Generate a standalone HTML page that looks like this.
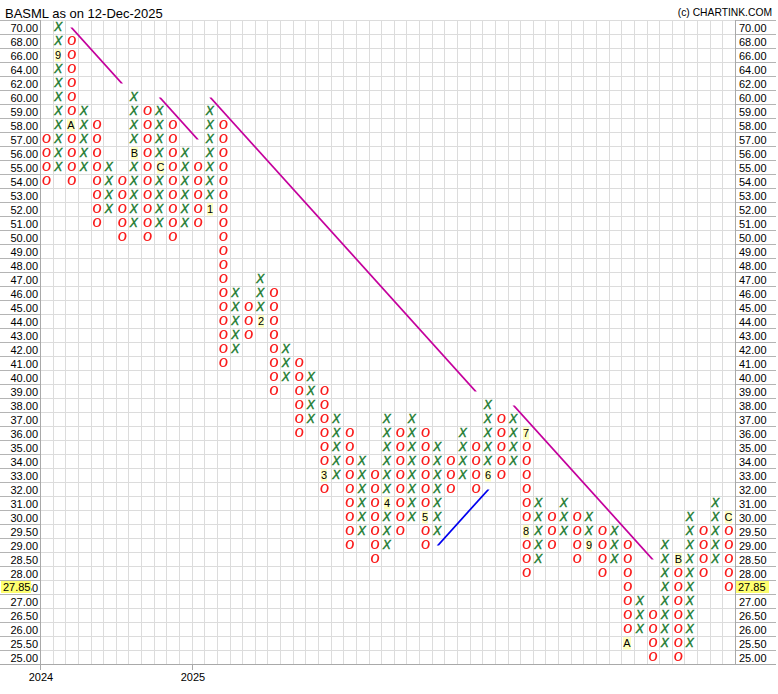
<!DOCTYPE html>
<html><head><meta charset="utf-8"><style>
html,body{margin:0;padding:0;background:#fff;}
body{width:778px;height:694px;overflow:hidden;position:relative;font-family:'Liberation Sans', sans-serif;}
svg{position:absolute;left:0;top:0;}
svg text{font-family:'Liberation Sans', sans-serif;}
.x{font-style:italic;font-size:12px;fill:#1a7a2e;stroke:#1a7a2e;stroke-width:0.4px;}
.op{fill:#fa1c1c;fill-rule:evenodd;shape-rendering:auto;}
.o{font-style:italic;font-size:12px;fill:#fa1c1c;stroke:#fa1c1c;stroke-width:0.35px;}
.m{font-size:11px;fill:#000;}
.lb{font-size:11px;fill:#000;}
</style></head><body>
<svg width="778" height="694" viewBox="0 0 778 694" shape-rendering="crispEdges">

<text x="5" y="17.5" style="font-size:13px" fill="#000" shape-rendering="auto">BASML as on 12-Dec-2025</text>
<text x="772" y="15.5" text-anchor="end" style="font-size:10.3px" fill="#000">(c) CHARTINK.COM</text>
<path d="M53.5 20V664M65.5 20V664M78.5 20V664M91.5 20V664M103.5 20V664M116.5 20V664M128.5 20V664M141.5 20V664M154.5 20V664M166.5 20V664M179.5 20V664M192.5 20V664M204.5 20V664M217.5 20V664M230.5 20V664M242.5 20V664M255.5 20V664M267.5 20V664M280.5 20V664M293.5 20V664M305.5 20V664M318.5 20V664M331.5 20V664M343.5 20V664M356.5 20V664M369.5 20V664M381.5 20V664M394.5 20V664M406.5 20V664M419.5 20V664M432.5 20V664M444.5 20V664M457.5 20V664M470.5 20V664M482.5 20V664M495.5 20V664M508.5 20V664M520.5 20V664M533.5 20V664M545.5 20V664M558.5 20V664M571.5 20V664M583.5 20V664M596.5 20V664M609.5 20V664M621.5 20V664M634.5 20V664M647.5 20V664M659.5 20V664M672.5 20V664M684.5 20V664M697.5 20V664M710.5 20V664M722.5 20V664M40 20.5H735M40 34.5H735M40 48.5H735M40 62.5H735M40 76.5H735M40 90.5H735M40 104.5H735M40 118.5H735M40 132.5H735M40 146.5H735M40 160.5H735M40 174.5H735M40 188.5H735M40 202.5H735M40 216.5H735M40 230.5H735M40 244.5H735M40 258.5H735M40 272.5H735M40 286.5H735M40 300.5H735M40 314.5H735M40 328.5H735M40 342.5H735M40 356.5H735M40 370.5H735M40 384.5H735M40 398.5H735M40 412.5H735M40 426.5H735M40 440.5H735M40 454.5H735M40 468.5H735M40 482.5H735M40 496.5H735M40 510.5H735M40 524.5H735M40 538.5H735M40 552.5H735M40 566.5H735M40 580.5H735M40 594.5H735M40 608.5H735M40 622.5H735M40 636.5H735M40 650.5H735" stroke="#dcdcdc" stroke-width="1" fill="none"/>
<path d="M0 20.5H40M735 20.5H776M0 34.5H40M735 34.5H776M0 48.5H40M735 48.5H776M0 62.5H40M735 62.5H776M0 76.5H40M735 76.5H776M0 90.5H40M735 90.5H776M0 104.5H40M735 104.5H776M0 118.5H40M735 118.5H776M0 132.5H40M735 132.5H776M0 146.5H40M735 146.5H776M0 160.5H40M735 160.5H776M0 174.5H40M735 174.5H776M0 188.5H40M735 188.5H776M0 202.5H40M735 202.5H776M0 216.5H40M735 216.5H776M0 230.5H40M735 230.5H776M0 244.5H40M735 244.5H776M0 258.5H40M735 258.5H776M0 272.5H40M735 272.5H776M0 286.5H40M735 286.5H776M0 300.5H40M735 300.5H776M0 314.5H40M735 314.5H776M0 328.5H40M735 328.5H776M0 342.5H40M735 342.5H776M0 356.5H40M735 356.5H776M0 370.5H40M735 370.5H776M0 384.5H40M735 384.5H776M0 398.5H40M735 398.5H776M0 412.5H40M735 412.5H776M0 426.5H40M735 426.5H776M0 440.5H40M735 440.5H776M0 454.5H40M735 454.5H776M0 468.5H40M735 468.5H776M0 482.5H40M735 482.5H776M0 496.5H40M735 496.5H776M0 510.5H40M735 510.5H776M0 524.5H40M735 524.5H776M0 538.5H40M735 538.5H776M0 552.5H40M735 552.5H776M0 566.5H40M735 566.5H776M0 580.5H40M735 580.5H776M0 594.5H40M735 594.5H776M0 608.5H40M735 608.5H776M0 622.5H40M735 622.5H776M0 636.5H40M735 636.5H776M0 650.5H40M735 650.5H776" stroke="#b4b4b4" stroke-width="1" fill="none"/>
<path d="M40.5 20V664M735.5 20V664M0 664.5H776M40.5 664V670M192.5 664V670" stroke="#a9a9a9" stroke-width="1" fill="none"/>
<text class="lb" x="38" y="31.5" text-anchor="end">70.00</text>
<text class="lb" x="739" y="31.5">70.00</text>
<text class="lb" x="38" y="45.5" text-anchor="end">68.00</text>
<text class="lb" x="739" y="45.5">68.00</text>
<text class="lb" x="38" y="59.5" text-anchor="end">66.00</text>
<text class="lb" x="739" y="59.5">66.00</text>
<text class="lb" x="38" y="73.5" text-anchor="end">64.00</text>
<text class="lb" x="739" y="73.5">64.00</text>
<text class="lb" x="38" y="87.5" text-anchor="end">62.00</text>
<text class="lb" x="739" y="87.5">62.00</text>
<text class="lb" x="38" y="101.5" text-anchor="end">60.00</text>
<text class="lb" x="739" y="101.5">60.00</text>
<text class="lb" x="38" y="115.5" text-anchor="end">59.00</text>
<text class="lb" x="739" y="115.5">59.00</text>
<text class="lb" x="38" y="129.5" text-anchor="end">58.00</text>
<text class="lb" x="739" y="129.5">58.00</text>
<text class="lb" x="38" y="143.5" text-anchor="end">57.00</text>
<text class="lb" x="739" y="143.5">57.00</text>
<text class="lb" x="38" y="157.5" text-anchor="end">56.00</text>
<text class="lb" x="739" y="157.5">56.00</text>
<text class="lb" x="38" y="171.5" text-anchor="end">55.00</text>
<text class="lb" x="739" y="171.5">55.00</text>
<text class="lb" x="38" y="185.5" text-anchor="end">54.00</text>
<text class="lb" x="739" y="185.5">54.00</text>
<text class="lb" x="38" y="199.5" text-anchor="end">53.00</text>
<text class="lb" x="739" y="199.5">53.00</text>
<text class="lb" x="38" y="213.5" text-anchor="end">52.00</text>
<text class="lb" x="739" y="213.5">52.00</text>
<text class="lb" x="38" y="227.5" text-anchor="end">51.00</text>
<text class="lb" x="739" y="227.5">51.00</text>
<text class="lb" x="38" y="241.5" text-anchor="end">50.00</text>
<text class="lb" x="739" y="241.5">50.00</text>
<text class="lb" x="38" y="255.5" text-anchor="end">49.00</text>
<text class="lb" x="739" y="255.5">49.00</text>
<text class="lb" x="38" y="269.5" text-anchor="end">48.00</text>
<text class="lb" x="739" y="269.5">48.00</text>
<text class="lb" x="38" y="283.5" text-anchor="end">47.00</text>
<text class="lb" x="739" y="283.5">47.00</text>
<text class="lb" x="38" y="297.5" text-anchor="end">46.00</text>
<text class="lb" x="739" y="297.5">46.00</text>
<text class="lb" x="38" y="311.5" text-anchor="end">45.00</text>
<text class="lb" x="739" y="311.5">45.00</text>
<text class="lb" x="38" y="325.5" text-anchor="end">44.00</text>
<text class="lb" x="739" y="325.5">44.00</text>
<text class="lb" x="38" y="339.5" text-anchor="end">43.00</text>
<text class="lb" x="739" y="339.5">43.00</text>
<text class="lb" x="38" y="353.5" text-anchor="end">42.00</text>
<text class="lb" x="739" y="353.5">42.00</text>
<text class="lb" x="38" y="367.5" text-anchor="end">41.00</text>
<text class="lb" x="739" y="367.5">41.00</text>
<text class="lb" x="38" y="381.5" text-anchor="end">40.00</text>
<text class="lb" x="739" y="381.5">40.00</text>
<text class="lb" x="38" y="395.5" text-anchor="end">39.00</text>
<text class="lb" x="739" y="395.5">39.00</text>
<text class="lb" x="38" y="409.5" text-anchor="end">38.00</text>
<text class="lb" x="739" y="409.5">38.00</text>
<text class="lb" x="38" y="423.5" text-anchor="end">37.00</text>
<text class="lb" x="739" y="423.5">37.00</text>
<text class="lb" x="38" y="437.5" text-anchor="end">36.00</text>
<text class="lb" x="739" y="437.5">36.00</text>
<text class="lb" x="38" y="451.5" text-anchor="end">35.00</text>
<text class="lb" x="739" y="451.5">35.00</text>
<text class="lb" x="38" y="465.5" text-anchor="end">34.00</text>
<text class="lb" x="739" y="465.5">34.00</text>
<text class="lb" x="38" y="479.5" text-anchor="end">33.00</text>
<text class="lb" x="739" y="479.5">33.00</text>
<text class="lb" x="38" y="493.5" text-anchor="end">32.00</text>
<text class="lb" x="739" y="493.5">32.00</text>
<text class="lb" x="38" y="507.5" text-anchor="end">31.00</text>
<text class="lb" x="739" y="507.5">31.00</text>
<text class="lb" x="38" y="521.5" text-anchor="end">30.00</text>
<text class="lb" x="739" y="521.5">30.00</text>
<text class="lb" x="38" y="535.5" text-anchor="end">29.50</text>
<text class="lb" x="739" y="535.5">29.50</text>
<text class="lb" x="38" y="549.5" text-anchor="end">29.00</text>
<text class="lb" x="739" y="549.5">29.00</text>
<text class="lb" x="38" y="563.5" text-anchor="end">28.50</text>
<text class="lb" x="739" y="563.5">28.50</text>
<text class="lb" x="38" y="577.5" text-anchor="end">28.00</text>
<text class="lb" x="739" y="577.5">28.00</text>
<text class="lb" x="38" y="591.5" text-anchor="end">27.50</text>
<text class="lb" x="739" y="591.5">27.50</text>
<text class="lb" x="38" y="605.5" text-anchor="end">27.00</text>
<text class="lb" x="739" y="605.5">27.00</text>
<text class="lb" x="38" y="619.5" text-anchor="end">26.50</text>
<text class="lb" x="739" y="619.5">26.50</text>
<text class="lb" x="38" y="633.5" text-anchor="end">26.00</text>
<text class="lb" x="739" y="633.5">26.00</text>
<text class="lb" x="38" y="647.5" text-anchor="end">25.50</text>
<text class="lb" x="739" y="647.5">25.50</text>
<text class="lb" x="38" y="661.5" text-anchor="end">25.00</text>
<text class="lb" x="739" y="661.5">25.00</text>
<rect x="1" y="581" width="30" height="12" fill="#ffff70"/>
<text class="lb" x="2.9" y="590.5">27.85</text>
<rect x="736" y="581" width="33" height="12" fill="#ffff70"/>
<text class="lb" x="738" y="590.5">27.85</text>
<text class="lb" x="41" y="681" text-anchor="middle">2024</text>
<text class="lb" x="193" y="681" text-anchor="middle">2025</text>
<path class="op" transform="translate(46.52,138.5) skewX(-7)" d="M-4.1,0A4.1,4.5 0 1,0 4.1,0A4.1,4.5 0 1,0 -4.1,0ZM-2.35,0A2.35,3.5 0 1,0 2.35,0A2.35,3.5 0 1,0 -2.35,0Z"/>
<path class="op" transform="translate(46.52,152.5) skewX(-7)" d="M-4.1,0A4.1,4.5 0 1,0 4.1,0A4.1,4.5 0 1,0 -4.1,0ZM-2.35,0A2.35,3.5 0 1,0 2.35,0A2.35,3.5 0 1,0 -2.35,0Z"/>
<path class="op" transform="translate(46.52,166.5) skewX(-7)" d="M-4.1,0A4.1,4.5 0 1,0 4.1,0A4.1,4.5 0 1,0 -4.1,0ZM-2.35,0A2.35,3.5 0 1,0 2.35,0A2.35,3.5 0 1,0 -2.35,0Z"/>
<path class="op" transform="translate(46.52,180.5) skewX(-7)" d="M-4.1,0A4.1,4.5 0 1,0 4.1,0A4.1,4.5 0 1,0 -4.1,0ZM-2.35,0A2.35,3.5 0 1,0 2.35,0A2.35,3.5 0 1,0 -2.35,0Z"/>
<text class="x" x="58.30" y="31" text-anchor="middle">X</text>
<text class="x" x="58.30" y="45" text-anchor="middle">X</text>
<rect x="55" y="49.1" width="6" height="12.4" fill="#ffffc0" shape-rendering="auto"/>
<text class="m" x="58.00" y="59" text-anchor="middle">9</text>
<text class="x" x="58.30" y="73" text-anchor="middle">X</text>
<text class="x" x="58.30" y="87" text-anchor="middle">X</text>
<text class="x" x="58.30" y="101" text-anchor="middle">X</text>
<text class="x" x="58.30" y="115" text-anchor="middle">X</text>
<text class="x" x="58.30" y="129" text-anchor="middle">X</text>
<text class="x" x="58.30" y="143" text-anchor="middle">X</text>
<text class="x" x="58.30" y="157" text-anchor="middle">X</text>
<text class="x" x="58.30" y="171" text-anchor="middle">X</text>
<path class="op" transform="translate(71.79,40.5) skewX(-7)" d="M-4.1,0A4.1,4.5 0 1,0 4.1,0A4.1,4.5 0 1,0 -4.1,0ZM-2.35,0A2.35,3.5 0 1,0 2.35,0A2.35,3.5 0 1,0 -2.35,0Z"/>
<path class="op" transform="translate(71.79,54.5) skewX(-7)" d="M-4.1,0A4.1,4.5 0 1,0 4.1,0A4.1,4.5 0 1,0 -4.1,0ZM-2.35,0A2.35,3.5 0 1,0 2.35,0A2.35,3.5 0 1,0 -2.35,0Z"/>
<path class="op" transform="translate(71.79,68.5) skewX(-7)" d="M-4.1,0A4.1,4.5 0 1,0 4.1,0A4.1,4.5 0 1,0 -4.1,0ZM-2.35,0A2.35,3.5 0 1,0 2.35,0A2.35,3.5 0 1,0 -2.35,0Z"/>
<path class="op" transform="translate(71.79,82.5) skewX(-7)" d="M-4.1,0A4.1,4.5 0 1,0 4.1,0A4.1,4.5 0 1,0 -4.1,0ZM-2.35,0A2.35,3.5 0 1,0 2.35,0A2.35,3.5 0 1,0 -2.35,0Z"/>
<path class="op" transform="translate(71.79,96.5) skewX(-7)" d="M-4.1,0A4.1,4.5 0 1,0 4.1,0A4.1,4.5 0 1,0 -4.1,0ZM-2.35,0A2.35,3.5 0 1,0 2.35,0A2.35,3.5 0 1,0 -2.35,0Z"/>
<path class="op" transform="translate(71.79,110.5) skewX(-7)" d="M-4.1,0A4.1,4.5 0 1,0 4.1,0A4.1,4.5 0 1,0 -4.1,0ZM-2.35,0A2.35,3.5 0 1,0 2.35,0A2.35,3.5 0 1,0 -2.35,0Z"/>
<rect x="67" y="119.1" width="8" height="12.4" fill="#ffffc0" shape-rendering="auto"/>
<text class="m" x="71.00" y="129" text-anchor="middle">A</text>
<path class="op" transform="translate(71.79,138.5) skewX(-7)" d="M-4.1,0A4.1,4.5 0 1,0 4.1,0A4.1,4.5 0 1,0 -4.1,0ZM-2.35,0A2.35,3.5 0 1,0 2.35,0A2.35,3.5 0 1,0 -2.35,0Z"/>
<path class="op" transform="translate(71.79,152.5) skewX(-7)" d="M-4.1,0A4.1,4.5 0 1,0 4.1,0A4.1,4.5 0 1,0 -4.1,0ZM-2.35,0A2.35,3.5 0 1,0 2.35,0A2.35,3.5 0 1,0 -2.35,0Z"/>
<path class="op" transform="translate(71.79,166.5) skewX(-7)" d="M-4.1,0A4.1,4.5 0 1,0 4.1,0A4.1,4.5 0 1,0 -4.1,0ZM-2.35,0A2.35,3.5 0 1,0 2.35,0A2.35,3.5 0 1,0 -2.35,0Z"/>
<path class="op" transform="translate(71.79,180.5) skewX(-7)" d="M-4.1,0A4.1,4.5 0 1,0 4.1,0A4.1,4.5 0 1,0 -4.1,0ZM-2.35,0A2.35,3.5 0 1,0 2.35,0A2.35,3.5 0 1,0 -2.35,0Z"/>
<text class="x" x="83.80" y="115" text-anchor="middle">X</text>
<text class="x" x="83.80" y="129" text-anchor="middle">X</text>
<text class="x" x="83.80" y="143" text-anchor="middle">X</text>
<text class="x" x="83.80" y="157" text-anchor="middle">X</text>
<text class="x" x="83.80" y="171" text-anchor="middle">X</text>
<path class="op" transform="translate(97.06,124.5) skewX(-7)" d="M-4.1,0A4.1,4.5 0 1,0 4.1,0A4.1,4.5 0 1,0 -4.1,0ZM-2.35,0A2.35,3.5 0 1,0 2.35,0A2.35,3.5 0 1,0 -2.35,0Z"/>
<path class="op" transform="translate(97.06,138.5) skewX(-7)" d="M-4.1,0A4.1,4.5 0 1,0 4.1,0A4.1,4.5 0 1,0 -4.1,0ZM-2.35,0A2.35,3.5 0 1,0 2.35,0A2.35,3.5 0 1,0 -2.35,0Z"/>
<path class="op" transform="translate(97.06,152.5) skewX(-7)" d="M-4.1,0A4.1,4.5 0 1,0 4.1,0A4.1,4.5 0 1,0 -4.1,0ZM-2.35,0A2.35,3.5 0 1,0 2.35,0A2.35,3.5 0 1,0 -2.35,0Z"/>
<path class="op" transform="translate(97.06,166.5) skewX(-7)" d="M-4.1,0A4.1,4.5 0 1,0 4.1,0A4.1,4.5 0 1,0 -4.1,0ZM-2.35,0A2.35,3.5 0 1,0 2.35,0A2.35,3.5 0 1,0 -2.35,0Z"/>
<path class="op" transform="translate(97.06,180.5) skewX(-7)" d="M-4.1,0A4.1,4.5 0 1,0 4.1,0A4.1,4.5 0 1,0 -4.1,0ZM-2.35,0A2.35,3.5 0 1,0 2.35,0A2.35,3.5 0 1,0 -2.35,0Z"/>
<path class="op" transform="translate(97.06,194.5) skewX(-7)" d="M-4.1,0A4.1,4.5 0 1,0 4.1,0A4.1,4.5 0 1,0 -4.1,0ZM-2.35,0A2.35,3.5 0 1,0 2.35,0A2.35,3.5 0 1,0 -2.35,0Z"/>
<path class="op" transform="translate(97.06,208.5) skewX(-7)" d="M-4.1,0A4.1,4.5 0 1,0 4.1,0A4.1,4.5 0 1,0 -4.1,0ZM-2.35,0A2.35,3.5 0 1,0 2.35,0A2.35,3.5 0 1,0 -2.35,0Z"/>
<path class="op" transform="translate(97.06,222.5) skewX(-7)" d="M-4.1,0A4.1,4.5 0 1,0 4.1,0A4.1,4.5 0 1,0 -4.1,0ZM-2.35,0A2.35,3.5 0 1,0 2.35,0A2.35,3.5 0 1,0 -2.35,0Z"/>
<text class="x" x="108.80" y="171" text-anchor="middle">X</text>
<text class="x" x="108.80" y="185" text-anchor="middle">X</text>
<text class="x" x="108.80" y="199" text-anchor="middle">X</text>
<text class="x" x="108.80" y="213" text-anchor="middle">X</text>
<path class="op" transform="translate(122.34,180.5) skewX(-7)" d="M-4.1,0A4.1,4.5 0 1,0 4.1,0A4.1,4.5 0 1,0 -4.1,0ZM-2.35,0A2.35,3.5 0 1,0 2.35,0A2.35,3.5 0 1,0 -2.35,0Z"/>
<path class="op" transform="translate(122.34,194.5) skewX(-7)" d="M-4.1,0A4.1,4.5 0 1,0 4.1,0A4.1,4.5 0 1,0 -4.1,0ZM-2.35,0A2.35,3.5 0 1,0 2.35,0A2.35,3.5 0 1,0 -2.35,0Z"/>
<path class="op" transform="translate(122.34,208.5) skewX(-7)" d="M-4.1,0A4.1,4.5 0 1,0 4.1,0A4.1,4.5 0 1,0 -4.1,0ZM-2.35,0A2.35,3.5 0 1,0 2.35,0A2.35,3.5 0 1,0 -2.35,0Z"/>
<path class="op" transform="translate(122.34,222.5) skewX(-7)" d="M-4.1,0A4.1,4.5 0 1,0 4.1,0A4.1,4.5 0 1,0 -4.1,0ZM-2.35,0A2.35,3.5 0 1,0 2.35,0A2.35,3.5 0 1,0 -2.35,0Z"/>
<path class="op" transform="translate(122.34,236.5) skewX(-7)" d="M-4.1,0A4.1,4.5 0 1,0 4.1,0A4.1,4.5 0 1,0 -4.1,0ZM-2.35,0A2.35,3.5 0 1,0 2.35,0A2.35,3.5 0 1,0 -2.35,0Z"/>
<text class="x" x="133.80" y="101" text-anchor="middle">X</text>
<text class="x" x="133.80" y="115" text-anchor="middle">X</text>
<text class="x" x="133.80" y="129" text-anchor="middle">X</text>
<text class="x" x="133.80" y="143" text-anchor="middle">X</text>
<rect x="131" y="147.1" width="7" height="12.4" fill="#ffffc0" shape-rendering="auto"/>
<text class="m" x="134.50" y="157" text-anchor="middle">B</text>
<text class="x" x="133.80" y="171" text-anchor="middle">X</text>
<text class="x" x="133.80" y="185" text-anchor="middle">X</text>
<text class="x" x="133.80" y="199" text-anchor="middle">X</text>
<text class="x" x="133.80" y="213" text-anchor="middle">X</text>
<text class="x" x="133.80" y="227" text-anchor="middle">X</text>
<path class="op" transform="translate(147.61,110.5) skewX(-7)" d="M-4.1,0A4.1,4.5 0 1,0 4.1,0A4.1,4.5 0 1,0 -4.1,0ZM-2.35,0A2.35,3.5 0 1,0 2.35,0A2.35,3.5 0 1,0 -2.35,0Z"/>
<path class="op" transform="translate(147.61,124.5) skewX(-7)" d="M-4.1,0A4.1,4.5 0 1,0 4.1,0A4.1,4.5 0 1,0 -4.1,0ZM-2.35,0A2.35,3.5 0 1,0 2.35,0A2.35,3.5 0 1,0 -2.35,0Z"/>
<path class="op" transform="translate(147.61,138.5) skewX(-7)" d="M-4.1,0A4.1,4.5 0 1,0 4.1,0A4.1,4.5 0 1,0 -4.1,0ZM-2.35,0A2.35,3.5 0 1,0 2.35,0A2.35,3.5 0 1,0 -2.35,0Z"/>
<path class="op" transform="translate(147.61,152.5) skewX(-7)" d="M-4.1,0A4.1,4.5 0 1,0 4.1,0A4.1,4.5 0 1,0 -4.1,0ZM-2.35,0A2.35,3.5 0 1,0 2.35,0A2.35,3.5 0 1,0 -2.35,0Z"/>
<path class="op" transform="translate(147.61,166.5) skewX(-7)" d="M-4.1,0A4.1,4.5 0 1,0 4.1,0A4.1,4.5 0 1,0 -4.1,0ZM-2.35,0A2.35,3.5 0 1,0 2.35,0A2.35,3.5 0 1,0 -2.35,0Z"/>
<path class="op" transform="translate(147.61,180.5) skewX(-7)" d="M-4.1,0A4.1,4.5 0 1,0 4.1,0A4.1,4.5 0 1,0 -4.1,0ZM-2.35,0A2.35,3.5 0 1,0 2.35,0A2.35,3.5 0 1,0 -2.35,0Z"/>
<path class="op" transform="translate(147.61,194.5) skewX(-7)" d="M-4.1,0A4.1,4.5 0 1,0 4.1,0A4.1,4.5 0 1,0 -4.1,0ZM-2.35,0A2.35,3.5 0 1,0 2.35,0A2.35,3.5 0 1,0 -2.35,0Z"/>
<path class="op" transform="translate(147.61,208.5) skewX(-7)" d="M-4.1,0A4.1,4.5 0 1,0 4.1,0A4.1,4.5 0 1,0 -4.1,0ZM-2.35,0A2.35,3.5 0 1,0 2.35,0A2.35,3.5 0 1,0 -2.35,0Z"/>
<path class="op" transform="translate(147.61,222.5) skewX(-7)" d="M-4.1,0A4.1,4.5 0 1,0 4.1,0A4.1,4.5 0 1,0 -4.1,0ZM-2.35,0A2.35,3.5 0 1,0 2.35,0A2.35,3.5 0 1,0 -2.35,0Z"/>
<path class="op" transform="translate(147.61,236.5) skewX(-7)" d="M-4.1,0A4.1,4.5 0 1,0 4.1,0A4.1,4.5 0 1,0 -4.1,0ZM-2.35,0A2.35,3.5 0 1,0 2.35,0A2.35,3.5 0 1,0 -2.35,0Z"/>
<text class="x" x="159.30" y="115" text-anchor="middle">X</text>
<text class="x" x="159.30" y="129" text-anchor="middle">X</text>
<text class="x" x="159.30" y="143" text-anchor="middle">X</text>
<text class="x" x="159.30" y="157" text-anchor="middle">X</text>
<rect x="157" y="161.1" width="7" height="12.4" fill="#ffffc0" shape-rendering="auto"/>
<text class="m" x="160.50" y="171" text-anchor="middle">C</text>
<text class="x" x="159.30" y="185" text-anchor="middle">X</text>
<text class="x" x="159.30" y="199" text-anchor="middle">X</text>
<text class="x" x="159.30" y="213" text-anchor="middle">X</text>
<text class="x" x="159.30" y="227" text-anchor="middle">X</text>
<path class="op" transform="translate(172.88,124.5) skewX(-7)" d="M-4.1,0A4.1,4.5 0 1,0 4.1,0A4.1,4.5 0 1,0 -4.1,0ZM-2.35,0A2.35,3.5 0 1,0 2.35,0A2.35,3.5 0 1,0 -2.35,0Z"/>
<path class="op" transform="translate(172.88,138.5) skewX(-7)" d="M-4.1,0A4.1,4.5 0 1,0 4.1,0A4.1,4.5 0 1,0 -4.1,0ZM-2.35,0A2.35,3.5 0 1,0 2.35,0A2.35,3.5 0 1,0 -2.35,0Z"/>
<path class="op" transform="translate(172.88,152.5) skewX(-7)" d="M-4.1,0A4.1,4.5 0 1,0 4.1,0A4.1,4.5 0 1,0 -4.1,0ZM-2.35,0A2.35,3.5 0 1,0 2.35,0A2.35,3.5 0 1,0 -2.35,0Z"/>
<path class="op" transform="translate(172.88,166.5) skewX(-7)" d="M-4.1,0A4.1,4.5 0 1,0 4.1,0A4.1,4.5 0 1,0 -4.1,0ZM-2.35,0A2.35,3.5 0 1,0 2.35,0A2.35,3.5 0 1,0 -2.35,0Z"/>
<path class="op" transform="translate(172.88,180.5) skewX(-7)" d="M-4.1,0A4.1,4.5 0 1,0 4.1,0A4.1,4.5 0 1,0 -4.1,0ZM-2.35,0A2.35,3.5 0 1,0 2.35,0A2.35,3.5 0 1,0 -2.35,0Z"/>
<path class="op" transform="translate(172.88,194.5) skewX(-7)" d="M-4.1,0A4.1,4.5 0 1,0 4.1,0A4.1,4.5 0 1,0 -4.1,0ZM-2.35,0A2.35,3.5 0 1,0 2.35,0A2.35,3.5 0 1,0 -2.35,0Z"/>
<path class="op" transform="translate(172.88,208.5) skewX(-7)" d="M-4.1,0A4.1,4.5 0 1,0 4.1,0A4.1,4.5 0 1,0 -4.1,0ZM-2.35,0A2.35,3.5 0 1,0 2.35,0A2.35,3.5 0 1,0 -2.35,0Z"/>
<path class="op" transform="translate(172.88,222.5) skewX(-7)" d="M-4.1,0A4.1,4.5 0 1,0 4.1,0A4.1,4.5 0 1,0 -4.1,0ZM-2.35,0A2.35,3.5 0 1,0 2.35,0A2.35,3.5 0 1,0 -2.35,0Z"/>
<path class="op" transform="translate(172.88,236.5) skewX(-7)" d="M-4.1,0A4.1,4.5 0 1,0 4.1,0A4.1,4.5 0 1,0 -4.1,0ZM-2.35,0A2.35,3.5 0 1,0 2.35,0A2.35,3.5 0 1,0 -2.35,0Z"/>
<text class="x" x="184.80" y="157" text-anchor="middle">X</text>
<text class="x" x="184.80" y="171" text-anchor="middle">X</text>
<text class="x" x="184.80" y="185" text-anchor="middle">X</text>
<text class="x" x="184.80" y="199" text-anchor="middle">X</text>
<text class="x" x="184.80" y="213" text-anchor="middle">X</text>
<text class="x" x="184.80" y="227" text-anchor="middle">X</text>
<path class="op" transform="translate(198.15,166.5) skewX(-7)" d="M-4.1,0A4.1,4.5 0 1,0 4.1,0A4.1,4.5 0 1,0 -4.1,0ZM-2.35,0A2.35,3.5 0 1,0 2.35,0A2.35,3.5 0 1,0 -2.35,0Z"/>
<path class="op" transform="translate(198.15,180.5) skewX(-7)" d="M-4.1,0A4.1,4.5 0 1,0 4.1,0A4.1,4.5 0 1,0 -4.1,0ZM-2.35,0A2.35,3.5 0 1,0 2.35,0A2.35,3.5 0 1,0 -2.35,0Z"/>
<path class="op" transform="translate(198.15,194.5) skewX(-7)" d="M-4.1,0A4.1,4.5 0 1,0 4.1,0A4.1,4.5 0 1,0 -4.1,0ZM-2.35,0A2.35,3.5 0 1,0 2.35,0A2.35,3.5 0 1,0 -2.35,0Z"/>
<path class="op" transform="translate(198.15,208.5) skewX(-7)" d="M-4.1,0A4.1,4.5 0 1,0 4.1,0A4.1,4.5 0 1,0 -4.1,0ZM-2.35,0A2.35,3.5 0 1,0 2.35,0A2.35,3.5 0 1,0 -2.35,0Z"/>
<path class="op" transform="translate(198.15,222.5) skewX(-7)" d="M-4.1,0A4.1,4.5 0 1,0 4.1,0A4.1,4.5 0 1,0 -4.1,0ZM-2.35,0A2.35,3.5 0 1,0 2.35,0A2.35,3.5 0 1,0 -2.35,0Z"/>
<text class="x" x="209.80" y="115" text-anchor="middle">X</text>
<text class="x" x="209.80" y="129" text-anchor="middle">X</text>
<text class="x" x="209.80" y="143" text-anchor="middle">X</text>
<text class="x" x="209.80" y="157" text-anchor="middle">X</text>
<text class="x" x="209.80" y="171" text-anchor="middle">X</text>
<text class="x" x="209.80" y="185" text-anchor="middle">X</text>
<text class="x" x="209.80" y="199" text-anchor="middle">X</text>
<rect x="207" y="203.1" width="6" height="12.4" fill="#ffffc0" shape-rendering="auto"/>
<text class="m" x="210.00" y="213" text-anchor="middle">1</text>
<path class="op" transform="translate(223.43,124.5) skewX(-7)" d="M-4.1,0A4.1,4.5 0 1,0 4.1,0A4.1,4.5 0 1,0 -4.1,0ZM-2.35,0A2.35,3.5 0 1,0 2.35,0A2.35,3.5 0 1,0 -2.35,0Z"/>
<path class="op" transform="translate(223.43,138.5) skewX(-7)" d="M-4.1,0A4.1,4.5 0 1,0 4.1,0A4.1,4.5 0 1,0 -4.1,0ZM-2.35,0A2.35,3.5 0 1,0 2.35,0A2.35,3.5 0 1,0 -2.35,0Z"/>
<path class="op" transform="translate(223.43,152.5) skewX(-7)" d="M-4.1,0A4.1,4.5 0 1,0 4.1,0A4.1,4.5 0 1,0 -4.1,0ZM-2.35,0A2.35,3.5 0 1,0 2.35,0A2.35,3.5 0 1,0 -2.35,0Z"/>
<path class="op" transform="translate(223.43,166.5) skewX(-7)" d="M-4.1,0A4.1,4.5 0 1,0 4.1,0A4.1,4.5 0 1,0 -4.1,0ZM-2.35,0A2.35,3.5 0 1,0 2.35,0A2.35,3.5 0 1,0 -2.35,0Z"/>
<path class="op" transform="translate(223.43,180.5) skewX(-7)" d="M-4.1,0A4.1,4.5 0 1,0 4.1,0A4.1,4.5 0 1,0 -4.1,0ZM-2.35,0A2.35,3.5 0 1,0 2.35,0A2.35,3.5 0 1,0 -2.35,0Z"/>
<path class="op" transform="translate(223.43,194.5) skewX(-7)" d="M-4.1,0A4.1,4.5 0 1,0 4.1,0A4.1,4.5 0 1,0 -4.1,0ZM-2.35,0A2.35,3.5 0 1,0 2.35,0A2.35,3.5 0 1,0 -2.35,0Z"/>
<path class="op" transform="translate(223.43,208.5) skewX(-7)" d="M-4.1,0A4.1,4.5 0 1,0 4.1,0A4.1,4.5 0 1,0 -4.1,0ZM-2.35,0A2.35,3.5 0 1,0 2.35,0A2.35,3.5 0 1,0 -2.35,0Z"/>
<path class="op" transform="translate(223.43,222.5) skewX(-7)" d="M-4.1,0A4.1,4.5 0 1,0 4.1,0A4.1,4.5 0 1,0 -4.1,0ZM-2.35,0A2.35,3.5 0 1,0 2.35,0A2.35,3.5 0 1,0 -2.35,0Z"/>
<path class="op" transform="translate(223.43,236.5) skewX(-7)" d="M-4.1,0A4.1,4.5 0 1,0 4.1,0A4.1,4.5 0 1,0 -4.1,0ZM-2.35,0A2.35,3.5 0 1,0 2.35,0A2.35,3.5 0 1,0 -2.35,0Z"/>
<path class="op" transform="translate(223.43,250.5) skewX(-7)" d="M-4.1,0A4.1,4.5 0 1,0 4.1,0A4.1,4.5 0 1,0 -4.1,0ZM-2.35,0A2.35,3.5 0 1,0 2.35,0A2.35,3.5 0 1,0 -2.35,0Z"/>
<path class="op" transform="translate(223.43,264.5) skewX(-7)" d="M-4.1,0A4.1,4.5 0 1,0 4.1,0A4.1,4.5 0 1,0 -4.1,0ZM-2.35,0A2.35,3.5 0 1,0 2.35,0A2.35,3.5 0 1,0 -2.35,0Z"/>
<path class="op" transform="translate(223.43,278.5) skewX(-7)" d="M-4.1,0A4.1,4.5 0 1,0 4.1,0A4.1,4.5 0 1,0 -4.1,0ZM-2.35,0A2.35,3.5 0 1,0 2.35,0A2.35,3.5 0 1,0 -2.35,0Z"/>
<path class="op" transform="translate(223.43,292.5) skewX(-7)" d="M-4.1,0A4.1,4.5 0 1,0 4.1,0A4.1,4.5 0 1,0 -4.1,0ZM-2.35,0A2.35,3.5 0 1,0 2.35,0A2.35,3.5 0 1,0 -2.35,0Z"/>
<path class="op" transform="translate(223.43,306.5) skewX(-7)" d="M-4.1,0A4.1,4.5 0 1,0 4.1,0A4.1,4.5 0 1,0 -4.1,0ZM-2.35,0A2.35,3.5 0 1,0 2.35,0A2.35,3.5 0 1,0 -2.35,0Z"/>
<path class="op" transform="translate(223.43,320.5) skewX(-7)" d="M-4.1,0A4.1,4.5 0 1,0 4.1,0A4.1,4.5 0 1,0 -4.1,0ZM-2.35,0A2.35,3.5 0 1,0 2.35,0A2.35,3.5 0 1,0 -2.35,0Z"/>
<path class="op" transform="translate(223.43,334.5) skewX(-7)" d="M-4.1,0A4.1,4.5 0 1,0 4.1,0A4.1,4.5 0 1,0 -4.1,0ZM-2.35,0A2.35,3.5 0 1,0 2.35,0A2.35,3.5 0 1,0 -2.35,0Z"/>
<path class="op" transform="translate(223.43,348.5) skewX(-7)" d="M-4.1,0A4.1,4.5 0 1,0 4.1,0A4.1,4.5 0 1,0 -4.1,0ZM-2.35,0A2.35,3.5 0 1,0 2.35,0A2.35,3.5 0 1,0 -2.35,0Z"/>
<path class="op" transform="translate(223.43,362.5) skewX(-7)" d="M-4.1,0A4.1,4.5 0 1,0 4.1,0A4.1,4.5 0 1,0 -4.1,0ZM-2.35,0A2.35,3.5 0 1,0 2.35,0A2.35,3.5 0 1,0 -2.35,0Z"/>
<text class="x" x="235.30" y="297" text-anchor="middle">X</text>
<text class="x" x="235.30" y="311" text-anchor="middle">X</text>
<text class="x" x="235.30" y="325" text-anchor="middle">X</text>
<text class="x" x="235.30" y="339" text-anchor="middle">X</text>
<text class="x" x="235.30" y="353" text-anchor="middle">X</text>
<path class="op" transform="translate(248.70,306.5) skewX(-7)" d="M-4.1,0A4.1,4.5 0 1,0 4.1,0A4.1,4.5 0 1,0 -4.1,0ZM-2.35,0A2.35,3.5 0 1,0 2.35,0A2.35,3.5 0 1,0 -2.35,0Z"/>
<path class="op" transform="translate(248.70,320.5) skewX(-7)" d="M-4.1,0A4.1,4.5 0 1,0 4.1,0A4.1,4.5 0 1,0 -4.1,0ZM-2.35,0A2.35,3.5 0 1,0 2.35,0A2.35,3.5 0 1,0 -2.35,0Z"/>
<path class="op" transform="translate(248.70,334.5) skewX(-7)" d="M-4.1,0A4.1,4.5 0 1,0 4.1,0A4.1,4.5 0 1,0 -4.1,0ZM-2.35,0A2.35,3.5 0 1,0 2.35,0A2.35,3.5 0 1,0 -2.35,0Z"/>
<text class="x" x="260.30" y="283" text-anchor="middle">X</text>
<text class="x" x="260.30" y="297" text-anchor="middle">X</text>
<text class="x" x="260.30" y="311" text-anchor="middle">X</text>
<rect x="258" y="315.1" width="6" height="12.4" fill="#ffffc0" shape-rendering="auto"/>
<text class="m" x="261.00" y="325" text-anchor="middle">2</text>
<path class="op" transform="translate(273.97,292.5) skewX(-7)" d="M-4.1,0A4.1,4.5 0 1,0 4.1,0A4.1,4.5 0 1,0 -4.1,0ZM-2.35,0A2.35,3.5 0 1,0 2.35,0A2.35,3.5 0 1,0 -2.35,0Z"/>
<path class="op" transform="translate(273.97,306.5) skewX(-7)" d="M-4.1,0A4.1,4.5 0 1,0 4.1,0A4.1,4.5 0 1,0 -4.1,0ZM-2.35,0A2.35,3.5 0 1,0 2.35,0A2.35,3.5 0 1,0 -2.35,0Z"/>
<path class="op" transform="translate(273.97,320.5) skewX(-7)" d="M-4.1,0A4.1,4.5 0 1,0 4.1,0A4.1,4.5 0 1,0 -4.1,0ZM-2.35,0A2.35,3.5 0 1,0 2.35,0A2.35,3.5 0 1,0 -2.35,0Z"/>
<path class="op" transform="translate(273.97,334.5) skewX(-7)" d="M-4.1,0A4.1,4.5 0 1,0 4.1,0A4.1,4.5 0 1,0 -4.1,0ZM-2.35,0A2.35,3.5 0 1,0 2.35,0A2.35,3.5 0 1,0 -2.35,0Z"/>
<path class="op" transform="translate(273.97,348.5) skewX(-7)" d="M-4.1,0A4.1,4.5 0 1,0 4.1,0A4.1,4.5 0 1,0 -4.1,0ZM-2.35,0A2.35,3.5 0 1,0 2.35,0A2.35,3.5 0 1,0 -2.35,0Z"/>
<path class="op" transform="translate(273.97,362.5) skewX(-7)" d="M-4.1,0A4.1,4.5 0 1,0 4.1,0A4.1,4.5 0 1,0 -4.1,0ZM-2.35,0A2.35,3.5 0 1,0 2.35,0A2.35,3.5 0 1,0 -2.35,0Z"/>
<path class="op" transform="translate(273.97,376.5) skewX(-7)" d="M-4.1,0A4.1,4.5 0 1,0 4.1,0A4.1,4.5 0 1,0 -4.1,0ZM-2.35,0A2.35,3.5 0 1,0 2.35,0A2.35,3.5 0 1,0 -2.35,0Z"/>
<path class="op" transform="translate(273.97,390.5) skewX(-7)" d="M-4.1,0A4.1,4.5 0 1,0 4.1,0A4.1,4.5 0 1,0 -4.1,0ZM-2.35,0A2.35,3.5 0 1,0 2.35,0A2.35,3.5 0 1,0 -2.35,0Z"/>
<text class="x" x="285.80" y="353" text-anchor="middle">X</text>
<text class="x" x="285.80" y="367" text-anchor="middle">X</text>
<text class="x" x="285.80" y="381" text-anchor="middle">X</text>
<path class="op" transform="translate(299.25,362.5) skewX(-7)" d="M-4.1,0A4.1,4.5 0 1,0 4.1,0A4.1,4.5 0 1,0 -4.1,0ZM-2.35,0A2.35,3.5 0 1,0 2.35,0A2.35,3.5 0 1,0 -2.35,0Z"/>
<path class="op" transform="translate(299.25,376.5) skewX(-7)" d="M-4.1,0A4.1,4.5 0 1,0 4.1,0A4.1,4.5 0 1,0 -4.1,0ZM-2.35,0A2.35,3.5 0 1,0 2.35,0A2.35,3.5 0 1,0 -2.35,0Z"/>
<path class="op" transform="translate(299.25,390.5) skewX(-7)" d="M-4.1,0A4.1,4.5 0 1,0 4.1,0A4.1,4.5 0 1,0 -4.1,0ZM-2.35,0A2.35,3.5 0 1,0 2.35,0A2.35,3.5 0 1,0 -2.35,0Z"/>
<path class="op" transform="translate(299.25,404.5) skewX(-7)" d="M-4.1,0A4.1,4.5 0 1,0 4.1,0A4.1,4.5 0 1,0 -4.1,0ZM-2.35,0A2.35,3.5 0 1,0 2.35,0A2.35,3.5 0 1,0 -2.35,0Z"/>
<path class="op" transform="translate(299.25,418.5) skewX(-7)" d="M-4.1,0A4.1,4.5 0 1,0 4.1,0A4.1,4.5 0 1,0 -4.1,0ZM-2.35,0A2.35,3.5 0 1,0 2.35,0A2.35,3.5 0 1,0 -2.35,0Z"/>
<path class="op" transform="translate(299.25,432.5) skewX(-7)" d="M-4.1,0A4.1,4.5 0 1,0 4.1,0A4.1,4.5 0 1,0 -4.1,0ZM-2.35,0A2.35,3.5 0 1,0 2.35,0A2.35,3.5 0 1,0 -2.35,0Z"/>
<text class="x" x="310.80" y="381" text-anchor="middle">X</text>
<text class="x" x="310.80" y="395" text-anchor="middle">X</text>
<text class="x" x="310.80" y="409" text-anchor="middle">X</text>
<text class="x" x="310.80" y="423" text-anchor="middle">X</text>
<path class="op" transform="translate(324.52,390.5) skewX(-7)" d="M-4.1,0A4.1,4.5 0 1,0 4.1,0A4.1,4.5 0 1,0 -4.1,0ZM-2.35,0A2.35,3.5 0 1,0 2.35,0A2.35,3.5 0 1,0 -2.35,0Z"/>
<path class="op" transform="translate(324.52,404.5) skewX(-7)" d="M-4.1,0A4.1,4.5 0 1,0 4.1,0A4.1,4.5 0 1,0 -4.1,0ZM-2.35,0A2.35,3.5 0 1,0 2.35,0A2.35,3.5 0 1,0 -2.35,0Z"/>
<path class="op" transform="translate(324.52,418.5) skewX(-7)" d="M-4.1,0A4.1,4.5 0 1,0 4.1,0A4.1,4.5 0 1,0 -4.1,0ZM-2.35,0A2.35,3.5 0 1,0 2.35,0A2.35,3.5 0 1,0 -2.35,0Z"/>
<path class="op" transform="translate(324.52,432.5) skewX(-7)" d="M-4.1,0A4.1,4.5 0 1,0 4.1,0A4.1,4.5 0 1,0 -4.1,0ZM-2.35,0A2.35,3.5 0 1,0 2.35,0A2.35,3.5 0 1,0 -2.35,0Z"/>
<path class="op" transform="translate(324.52,446.5) skewX(-7)" d="M-4.1,0A4.1,4.5 0 1,0 4.1,0A4.1,4.5 0 1,0 -4.1,0ZM-2.35,0A2.35,3.5 0 1,0 2.35,0A2.35,3.5 0 1,0 -2.35,0Z"/>
<path class="op" transform="translate(324.52,460.5) skewX(-7)" d="M-4.1,0A4.1,4.5 0 1,0 4.1,0A4.1,4.5 0 1,0 -4.1,0ZM-2.35,0A2.35,3.5 0 1,0 2.35,0A2.35,3.5 0 1,0 -2.35,0Z"/>
<rect x="321" y="469.1" width="6" height="12.4" fill="#ffffc0" shape-rendering="auto"/>
<text class="m" x="324.00" y="479" text-anchor="middle">3</text>
<path class="op" transform="translate(324.52,488.5) skewX(-7)" d="M-4.1,0A4.1,4.5 0 1,0 4.1,0A4.1,4.5 0 1,0 -4.1,0ZM-2.35,0A2.35,3.5 0 1,0 2.35,0A2.35,3.5 0 1,0 -2.35,0Z"/>
<text class="x" x="336.30" y="423" text-anchor="middle">X</text>
<text class="x" x="336.30" y="437" text-anchor="middle">X</text>
<text class="x" x="336.30" y="451" text-anchor="middle">X</text>
<text class="x" x="336.30" y="465" text-anchor="middle">X</text>
<text class="x" x="336.30" y="479" text-anchor="middle">X</text>
<path class="op" transform="translate(349.79,432.5) skewX(-7)" d="M-4.1,0A4.1,4.5 0 1,0 4.1,0A4.1,4.5 0 1,0 -4.1,0ZM-2.35,0A2.35,3.5 0 1,0 2.35,0A2.35,3.5 0 1,0 -2.35,0Z"/>
<path class="op" transform="translate(349.79,446.5) skewX(-7)" d="M-4.1,0A4.1,4.5 0 1,0 4.1,0A4.1,4.5 0 1,0 -4.1,0ZM-2.35,0A2.35,3.5 0 1,0 2.35,0A2.35,3.5 0 1,0 -2.35,0Z"/>
<path class="op" transform="translate(349.79,460.5) skewX(-7)" d="M-4.1,0A4.1,4.5 0 1,0 4.1,0A4.1,4.5 0 1,0 -4.1,0ZM-2.35,0A2.35,3.5 0 1,0 2.35,0A2.35,3.5 0 1,0 -2.35,0Z"/>
<path class="op" transform="translate(349.79,474.5) skewX(-7)" d="M-4.1,0A4.1,4.5 0 1,0 4.1,0A4.1,4.5 0 1,0 -4.1,0ZM-2.35,0A2.35,3.5 0 1,0 2.35,0A2.35,3.5 0 1,0 -2.35,0Z"/>
<path class="op" transform="translate(349.79,488.5) skewX(-7)" d="M-4.1,0A4.1,4.5 0 1,0 4.1,0A4.1,4.5 0 1,0 -4.1,0ZM-2.35,0A2.35,3.5 0 1,0 2.35,0A2.35,3.5 0 1,0 -2.35,0Z"/>
<path class="op" transform="translate(349.79,502.5) skewX(-7)" d="M-4.1,0A4.1,4.5 0 1,0 4.1,0A4.1,4.5 0 1,0 -4.1,0ZM-2.35,0A2.35,3.5 0 1,0 2.35,0A2.35,3.5 0 1,0 -2.35,0Z"/>
<path class="op" transform="translate(349.79,516.5) skewX(-7)" d="M-4.1,0A4.1,4.5 0 1,0 4.1,0A4.1,4.5 0 1,0 -4.1,0ZM-2.35,0A2.35,3.5 0 1,0 2.35,0A2.35,3.5 0 1,0 -2.35,0Z"/>
<path class="op" transform="translate(349.79,530.5) skewX(-7)" d="M-4.1,0A4.1,4.5 0 1,0 4.1,0A4.1,4.5 0 1,0 -4.1,0ZM-2.35,0A2.35,3.5 0 1,0 2.35,0A2.35,3.5 0 1,0 -2.35,0Z"/>
<path class="op" transform="translate(349.79,544.5) skewX(-7)" d="M-4.1,0A4.1,4.5 0 1,0 4.1,0A4.1,4.5 0 1,0 -4.1,0ZM-2.35,0A2.35,3.5 0 1,0 2.35,0A2.35,3.5 0 1,0 -2.35,0Z"/>
<text class="x" x="361.80" y="465" text-anchor="middle">X</text>
<text class="x" x="361.80" y="479" text-anchor="middle">X</text>
<text class="x" x="361.80" y="493" text-anchor="middle">X</text>
<text class="x" x="361.80" y="507" text-anchor="middle">X</text>
<text class="x" x="361.80" y="521" text-anchor="middle">X</text>
<text class="x" x="361.80" y="535" text-anchor="middle">X</text>
<path class="op" transform="translate(375.06,474.5) skewX(-7)" d="M-4.1,0A4.1,4.5 0 1,0 4.1,0A4.1,4.5 0 1,0 -4.1,0ZM-2.35,0A2.35,3.5 0 1,0 2.35,0A2.35,3.5 0 1,0 -2.35,0Z"/>
<path class="op" transform="translate(375.06,488.5) skewX(-7)" d="M-4.1,0A4.1,4.5 0 1,0 4.1,0A4.1,4.5 0 1,0 -4.1,0ZM-2.35,0A2.35,3.5 0 1,0 2.35,0A2.35,3.5 0 1,0 -2.35,0Z"/>
<path class="op" transform="translate(375.06,502.5) skewX(-7)" d="M-4.1,0A4.1,4.5 0 1,0 4.1,0A4.1,4.5 0 1,0 -4.1,0ZM-2.35,0A2.35,3.5 0 1,0 2.35,0A2.35,3.5 0 1,0 -2.35,0Z"/>
<path class="op" transform="translate(375.06,516.5) skewX(-7)" d="M-4.1,0A4.1,4.5 0 1,0 4.1,0A4.1,4.5 0 1,0 -4.1,0ZM-2.35,0A2.35,3.5 0 1,0 2.35,0A2.35,3.5 0 1,0 -2.35,0Z"/>
<path class="op" transform="translate(375.06,530.5) skewX(-7)" d="M-4.1,0A4.1,4.5 0 1,0 4.1,0A4.1,4.5 0 1,0 -4.1,0ZM-2.35,0A2.35,3.5 0 1,0 2.35,0A2.35,3.5 0 1,0 -2.35,0Z"/>
<path class="op" transform="translate(375.06,544.5) skewX(-7)" d="M-4.1,0A4.1,4.5 0 1,0 4.1,0A4.1,4.5 0 1,0 -4.1,0ZM-2.35,0A2.35,3.5 0 1,0 2.35,0A2.35,3.5 0 1,0 -2.35,0Z"/>
<path class="op" transform="translate(375.06,558.5) skewX(-7)" d="M-4.1,0A4.1,4.5 0 1,0 4.1,0A4.1,4.5 0 1,0 -4.1,0ZM-2.35,0A2.35,3.5 0 1,0 2.35,0A2.35,3.5 0 1,0 -2.35,0Z"/>
<text class="x" x="386.80" y="423" text-anchor="middle">X</text>
<text class="x" x="386.80" y="437" text-anchor="middle">X</text>
<text class="x" x="386.80" y="451" text-anchor="middle">X</text>
<text class="x" x="386.80" y="465" text-anchor="middle">X</text>
<text class="x" x="386.80" y="479" text-anchor="middle">X</text>
<text class="x" x="386.80" y="493" text-anchor="middle">X</text>
<rect x="384" y="497.1" width="6" height="12.4" fill="#ffffc0" shape-rendering="auto"/>
<text class="m" x="387.00" y="507" text-anchor="middle">4</text>
<text class="x" x="386.80" y="521" text-anchor="middle">X</text>
<text class="x" x="386.80" y="535" text-anchor="middle">X</text>
<text class="x" x="386.80" y="549" text-anchor="middle">X</text>
<path class="op" transform="translate(400.34,432.5) skewX(-7)" d="M-4.1,0A4.1,4.5 0 1,0 4.1,0A4.1,4.5 0 1,0 -4.1,0ZM-2.35,0A2.35,3.5 0 1,0 2.35,0A2.35,3.5 0 1,0 -2.35,0Z"/>
<path class="op" transform="translate(400.34,446.5) skewX(-7)" d="M-4.1,0A4.1,4.5 0 1,0 4.1,0A4.1,4.5 0 1,0 -4.1,0ZM-2.35,0A2.35,3.5 0 1,0 2.35,0A2.35,3.5 0 1,0 -2.35,0Z"/>
<path class="op" transform="translate(400.34,460.5) skewX(-7)" d="M-4.1,0A4.1,4.5 0 1,0 4.1,0A4.1,4.5 0 1,0 -4.1,0ZM-2.35,0A2.35,3.5 0 1,0 2.35,0A2.35,3.5 0 1,0 -2.35,0Z"/>
<path class="op" transform="translate(400.34,474.5) skewX(-7)" d="M-4.1,0A4.1,4.5 0 1,0 4.1,0A4.1,4.5 0 1,0 -4.1,0ZM-2.35,0A2.35,3.5 0 1,0 2.35,0A2.35,3.5 0 1,0 -2.35,0Z"/>
<path class="op" transform="translate(400.34,488.5) skewX(-7)" d="M-4.1,0A4.1,4.5 0 1,0 4.1,0A4.1,4.5 0 1,0 -4.1,0ZM-2.35,0A2.35,3.5 0 1,0 2.35,0A2.35,3.5 0 1,0 -2.35,0Z"/>
<path class="op" transform="translate(400.34,502.5) skewX(-7)" d="M-4.1,0A4.1,4.5 0 1,0 4.1,0A4.1,4.5 0 1,0 -4.1,0ZM-2.35,0A2.35,3.5 0 1,0 2.35,0A2.35,3.5 0 1,0 -2.35,0Z"/>
<path class="op" transform="translate(400.34,516.5) skewX(-7)" d="M-4.1,0A4.1,4.5 0 1,0 4.1,0A4.1,4.5 0 1,0 -4.1,0ZM-2.35,0A2.35,3.5 0 1,0 2.35,0A2.35,3.5 0 1,0 -2.35,0Z"/>
<path class="op" transform="translate(400.34,530.5) skewX(-7)" d="M-4.1,0A4.1,4.5 0 1,0 4.1,0A4.1,4.5 0 1,0 -4.1,0ZM-2.35,0A2.35,3.5 0 1,0 2.35,0A2.35,3.5 0 1,0 -2.35,0Z"/>
<text class="x" x="411.80" y="423" text-anchor="middle">X</text>
<text class="x" x="411.80" y="437" text-anchor="middle">X</text>
<text class="x" x="411.80" y="451" text-anchor="middle">X</text>
<text class="x" x="411.80" y="465" text-anchor="middle">X</text>
<text class="x" x="411.80" y="479" text-anchor="middle">X</text>
<text class="x" x="411.80" y="493" text-anchor="middle">X</text>
<text class="x" x="411.80" y="507" text-anchor="middle">X</text>
<text class="x" x="411.80" y="521" text-anchor="middle">X</text>
<path class="op" transform="translate(425.61,432.5) skewX(-7)" d="M-4.1,0A4.1,4.5 0 1,0 4.1,0A4.1,4.5 0 1,0 -4.1,0ZM-2.35,0A2.35,3.5 0 1,0 2.35,0A2.35,3.5 0 1,0 -2.35,0Z"/>
<path class="op" transform="translate(425.61,446.5) skewX(-7)" d="M-4.1,0A4.1,4.5 0 1,0 4.1,0A4.1,4.5 0 1,0 -4.1,0ZM-2.35,0A2.35,3.5 0 1,0 2.35,0A2.35,3.5 0 1,0 -2.35,0Z"/>
<path class="op" transform="translate(425.61,460.5) skewX(-7)" d="M-4.1,0A4.1,4.5 0 1,0 4.1,0A4.1,4.5 0 1,0 -4.1,0ZM-2.35,0A2.35,3.5 0 1,0 2.35,0A2.35,3.5 0 1,0 -2.35,0Z"/>
<path class="op" transform="translate(425.61,474.5) skewX(-7)" d="M-4.1,0A4.1,4.5 0 1,0 4.1,0A4.1,4.5 0 1,0 -4.1,0ZM-2.35,0A2.35,3.5 0 1,0 2.35,0A2.35,3.5 0 1,0 -2.35,0Z"/>
<path class="op" transform="translate(425.61,488.5) skewX(-7)" d="M-4.1,0A4.1,4.5 0 1,0 4.1,0A4.1,4.5 0 1,0 -4.1,0ZM-2.35,0A2.35,3.5 0 1,0 2.35,0A2.35,3.5 0 1,0 -2.35,0Z"/>
<path class="op" transform="translate(425.61,502.5) skewX(-7)" d="M-4.1,0A4.1,4.5 0 1,0 4.1,0A4.1,4.5 0 1,0 -4.1,0ZM-2.35,0A2.35,3.5 0 1,0 2.35,0A2.35,3.5 0 1,0 -2.35,0Z"/>
<rect x="422" y="511.1" width="6" height="12.4" fill="#ffffc0" shape-rendering="auto"/>
<text class="m" x="425.00" y="521" text-anchor="middle">5</text>
<path class="op" transform="translate(425.61,530.5) skewX(-7)" d="M-4.1,0A4.1,4.5 0 1,0 4.1,0A4.1,4.5 0 1,0 -4.1,0ZM-2.35,0A2.35,3.5 0 1,0 2.35,0A2.35,3.5 0 1,0 -2.35,0Z"/>
<path class="op" transform="translate(425.61,544.5) skewX(-7)" d="M-4.1,0A4.1,4.5 0 1,0 4.1,0A4.1,4.5 0 1,0 -4.1,0ZM-2.35,0A2.35,3.5 0 1,0 2.35,0A2.35,3.5 0 1,0 -2.35,0Z"/>
<text class="x" x="437.30" y="451" text-anchor="middle">X</text>
<text class="x" x="437.30" y="465" text-anchor="middle">X</text>
<text class="x" x="437.30" y="479" text-anchor="middle">X</text>
<text class="x" x="437.30" y="493" text-anchor="middle">X</text>
<text class="x" x="437.30" y="507" text-anchor="middle">X</text>
<text class="x" x="437.30" y="521" text-anchor="middle">X</text>
<text class="x" x="437.30" y="535" text-anchor="middle">X</text>
<path class="op" transform="translate(450.88,460.5) skewX(-7)" d="M-4.1,0A4.1,4.5 0 1,0 4.1,0A4.1,4.5 0 1,0 -4.1,0ZM-2.35,0A2.35,3.5 0 1,0 2.35,0A2.35,3.5 0 1,0 -2.35,0Z"/>
<path class="op" transform="translate(450.88,474.5) skewX(-7)" d="M-4.1,0A4.1,4.5 0 1,0 4.1,0A4.1,4.5 0 1,0 -4.1,0ZM-2.35,0A2.35,3.5 0 1,0 2.35,0A2.35,3.5 0 1,0 -2.35,0Z"/>
<path class="op" transform="translate(450.88,488.5) skewX(-7)" d="M-4.1,0A4.1,4.5 0 1,0 4.1,0A4.1,4.5 0 1,0 -4.1,0ZM-2.35,0A2.35,3.5 0 1,0 2.35,0A2.35,3.5 0 1,0 -2.35,0Z"/>
<text class="x" x="462.80" y="437" text-anchor="middle">X</text>
<text class="x" x="462.80" y="451" text-anchor="middle">X</text>
<text class="x" x="462.80" y="465" text-anchor="middle">X</text>
<text class="x" x="462.80" y="479" text-anchor="middle">X</text>
<path class="op" transform="translate(476.15,446.5) skewX(-7)" d="M-4.1,0A4.1,4.5 0 1,0 4.1,0A4.1,4.5 0 1,0 -4.1,0ZM-2.35,0A2.35,3.5 0 1,0 2.35,0A2.35,3.5 0 1,0 -2.35,0Z"/>
<path class="op" transform="translate(476.15,460.5) skewX(-7)" d="M-4.1,0A4.1,4.5 0 1,0 4.1,0A4.1,4.5 0 1,0 -4.1,0ZM-2.35,0A2.35,3.5 0 1,0 2.35,0A2.35,3.5 0 1,0 -2.35,0Z"/>
<path class="op" transform="translate(476.15,474.5) skewX(-7)" d="M-4.1,0A4.1,4.5 0 1,0 4.1,0A4.1,4.5 0 1,0 -4.1,0ZM-2.35,0A2.35,3.5 0 1,0 2.35,0A2.35,3.5 0 1,0 -2.35,0Z"/>
<path class="op" transform="translate(476.15,488.5) skewX(-7)" d="M-4.1,0A4.1,4.5 0 1,0 4.1,0A4.1,4.5 0 1,0 -4.1,0ZM-2.35,0A2.35,3.5 0 1,0 2.35,0A2.35,3.5 0 1,0 -2.35,0Z"/>
<text class="x" x="487.80" y="409" text-anchor="middle">X</text>
<text class="x" x="487.80" y="423" text-anchor="middle">X</text>
<text class="x" x="487.80" y="437" text-anchor="middle">X</text>
<text class="x" x="487.80" y="451" text-anchor="middle">X</text>
<text class="x" x="487.80" y="465" text-anchor="middle">X</text>
<rect x="485" y="469.1" width="6" height="12.4" fill="#ffffc0" shape-rendering="auto"/>
<text class="m" x="488.00" y="479" text-anchor="middle">6</text>
<path class="op" transform="translate(501.43,418.5) skewX(-7)" d="M-4.1,0A4.1,4.5 0 1,0 4.1,0A4.1,4.5 0 1,0 -4.1,0ZM-2.35,0A2.35,3.5 0 1,0 2.35,0A2.35,3.5 0 1,0 -2.35,0Z"/>
<path class="op" transform="translate(501.43,432.5) skewX(-7)" d="M-4.1,0A4.1,4.5 0 1,0 4.1,0A4.1,4.5 0 1,0 -4.1,0ZM-2.35,0A2.35,3.5 0 1,0 2.35,0A2.35,3.5 0 1,0 -2.35,0Z"/>
<path class="op" transform="translate(501.43,446.5) skewX(-7)" d="M-4.1,0A4.1,4.5 0 1,0 4.1,0A4.1,4.5 0 1,0 -4.1,0ZM-2.35,0A2.35,3.5 0 1,0 2.35,0A2.35,3.5 0 1,0 -2.35,0Z"/>
<path class="op" transform="translate(501.43,460.5) skewX(-7)" d="M-4.1,0A4.1,4.5 0 1,0 4.1,0A4.1,4.5 0 1,0 -4.1,0ZM-2.35,0A2.35,3.5 0 1,0 2.35,0A2.35,3.5 0 1,0 -2.35,0Z"/>
<path class="op" transform="translate(501.43,474.5) skewX(-7)" d="M-4.1,0A4.1,4.5 0 1,0 4.1,0A4.1,4.5 0 1,0 -4.1,0ZM-2.35,0A2.35,3.5 0 1,0 2.35,0A2.35,3.5 0 1,0 -2.35,0Z"/>
<text class="x" x="513.30" y="423" text-anchor="middle">X</text>
<text class="x" x="513.30" y="437" text-anchor="middle">X</text>
<text class="x" x="513.30" y="451" text-anchor="middle">X</text>
<text class="x" x="513.30" y="465" text-anchor="middle">X</text>
<rect x="523" y="427.1" width="6" height="12.4" fill="#ffffc0" shape-rendering="auto"/>
<text class="m" x="526.00" y="437" text-anchor="middle">7</text>
<path class="op" transform="translate(526.70,446.5) skewX(-7)" d="M-4.1,0A4.1,4.5 0 1,0 4.1,0A4.1,4.5 0 1,0 -4.1,0ZM-2.35,0A2.35,3.5 0 1,0 2.35,0A2.35,3.5 0 1,0 -2.35,0Z"/>
<path class="op" transform="translate(526.70,460.5) skewX(-7)" d="M-4.1,0A4.1,4.5 0 1,0 4.1,0A4.1,4.5 0 1,0 -4.1,0ZM-2.35,0A2.35,3.5 0 1,0 2.35,0A2.35,3.5 0 1,0 -2.35,0Z"/>
<path class="op" transform="translate(526.70,474.5) skewX(-7)" d="M-4.1,0A4.1,4.5 0 1,0 4.1,0A4.1,4.5 0 1,0 -4.1,0ZM-2.35,0A2.35,3.5 0 1,0 2.35,0A2.35,3.5 0 1,0 -2.35,0Z"/>
<path class="op" transform="translate(526.70,488.5) skewX(-7)" d="M-4.1,0A4.1,4.5 0 1,0 4.1,0A4.1,4.5 0 1,0 -4.1,0ZM-2.35,0A2.35,3.5 0 1,0 2.35,0A2.35,3.5 0 1,0 -2.35,0Z"/>
<path class="op" transform="translate(526.70,502.5) skewX(-7)" d="M-4.1,0A4.1,4.5 0 1,0 4.1,0A4.1,4.5 0 1,0 -4.1,0ZM-2.35,0A2.35,3.5 0 1,0 2.35,0A2.35,3.5 0 1,0 -2.35,0Z"/>
<path class="op" transform="translate(526.70,516.5) skewX(-7)" d="M-4.1,0A4.1,4.5 0 1,0 4.1,0A4.1,4.5 0 1,0 -4.1,0ZM-2.35,0A2.35,3.5 0 1,0 2.35,0A2.35,3.5 0 1,0 -2.35,0Z"/>
<rect x="523" y="525.1" width="6" height="12.4" fill="#ffffc0" shape-rendering="auto"/>
<text class="m" x="526.00" y="535" text-anchor="middle">8</text>
<path class="op" transform="translate(526.70,544.5) skewX(-7)" d="M-4.1,0A4.1,4.5 0 1,0 4.1,0A4.1,4.5 0 1,0 -4.1,0ZM-2.35,0A2.35,3.5 0 1,0 2.35,0A2.35,3.5 0 1,0 -2.35,0Z"/>
<path class="op" transform="translate(526.70,558.5) skewX(-7)" d="M-4.1,0A4.1,4.5 0 1,0 4.1,0A4.1,4.5 0 1,0 -4.1,0ZM-2.35,0A2.35,3.5 0 1,0 2.35,0A2.35,3.5 0 1,0 -2.35,0Z"/>
<path class="op" transform="translate(526.70,572.5) skewX(-7)" d="M-4.1,0A4.1,4.5 0 1,0 4.1,0A4.1,4.5 0 1,0 -4.1,0ZM-2.35,0A2.35,3.5 0 1,0 2.35,0A2.35,3.5 0 1,0 -2.35,0Z"/>
<text class="x" x="538.30" y="507" text-anchor="middle">X</text>
<text class="x" x="538.30" y="521" text-anchor="middle">X</text>
<text class="x" x="538.30" y="535" text-anchor="middle">X</text>
<text class="x" x="538.30" y="549" text-anchor="middle">X</text>
<text class="x" x="538.30" y="563" text-anchor="middle">X</text>
<path class="op" transform="translate(551.97,516.5) skewX(-7)" d="M-4.1,0A4.1,4.5 0 1,0 4.1,0A4.1,4.5 0 1,0 -4.1,0ZM-2.35,0A2.35,3.5 0 1,0 2.35,0A2.35,3.5 0 1,0 -2.35,0Z"/>
<path class="op" transform="translate(551.97,530.5) skewX(-7)" d="M-4.1,0A4.1,4.5 0 1,0 4.1,0A4.1,4.5 0 1,0 -4.1,0ZM-2.35,0A2.35,3.5 0 1,0 2.35,0A2.35,3.5 0 1,0 -2.35,0Z"/>
<path class="op" transform="translate(551.97,544.5) skewX(-7)" d="M-4.1,0A4.1,4.5 0 1,0 4.1,0A4.1,4.5 0 1,0 -4.1,0ZM-2.35,0A2.35,3.5 0 1,0 2.35,0A2.35,3.5 0 1,0 -2.35,0Z"/>
<text class="x" x="563.80" y="507" text-anchor="middle">X</text>
<text class="x" x="563.80" y="521" text-anchor="middle">X</text>
<text class="x" x="563.80" y="535" text-anchor="middle">X</text>
<path class="op" transform="translate(577.25,516.5) skewX(-7)" d="M-4.1,0A4.1,4.5 0 1,0 4.1,0A4.1,4.5 0 1,0 -4.1,0ZM-2.35,0A2.35,3.5 0 1,0 2.35,0A2.35,3.5 0 1,0 -2.35,0Z"/>
<path class="op" transform="translate(577.25,530.5) skewX(-7)" d="M-4.1,0A4.1,4.5 0 1,0 4.1,0A4.1,4.5 0 1,0 -4.1,0ZM-2.35,0A2.35,3.5 0 1,0 2.35,0A2.35,3.5 0 1,0 -2.35,0Z"/>
<path class="op" transform="translate(577.25,544.5) skewX(-7)" d="M-4.1,0A4.1,4.5 0 1,0 4.1,0A4.1,4.5 0 1,0 -4.1,0ZM-2.35,0A2.35,3.5 0 1,0 2.35,0A2.35,3.5 0 1,0 -2.35,0Z"/>
<path class="op" transform="translate(577.25,558.5) skewX(-7)" d="M-4.1,0A4.1,4.5 0 1,0 4.1,0A4.1,4.5 0 1,0 -4.1,0ZM-2.35,0A2.35,3.5 0 1,0 2.35,0A2.35,3.5 0 1,0 -2.35,0Z"/>
<text class="x" x="588.80" y="521" text-anchor="middle">X</text>
<text class="x" x="588.80" y="535" text-anchor="middle">X</text>
<rect x="586" y="539.1" width="6" height="12.4" fill="#ffffc0" shape-rendering="auto"/>
<text class="m" x="589.00" y="549" text-anchor="middle">9</text>
<path class="op" transform="translate(602.52,530.5) skewX(-7)" d="M-4.1,0A4.1,4.5 0 1,0 4.1,0A4.1,4.5 0 1,0 -4.1,0ZM-2.35,0A2.35,3.5 0 1,0 2.35,0A2.35,3.5 0 1,0 -2.35,0Z"/>
<path class="op" transform="translate(602.52,544.5) skewX(-7)" d="M-4.1,0A4.1,4.5 0 1,0 4.1,0A4.1,4.5 0 1,0 -4.1,0ZM-2.35,0A2.35,3.5 0 1,0 2.35,0A2.35,3.5 0 1,0 -2.35,0Z"/>
<path class="op" transform="translate(602.52,558.5) skewX(-7)" d="M-4.1,0A4.1,4.5 0 1,0 4.1,0A4.1,4.5 0 1,0 -4.1,0ZM-2.35,0A2.35,3.5 0 1,0 2.35,0A2.35,3.5 0 1,0 -2.35,0Z"/>
<path class="op" transform="translate(602.52,572.5) skewX(-7)" d="M-4.1,0A4.1,4.5 0 1,0 4.1,0A4.1,4.5 0 1,0 -4.1,0ZM-2.35,0A2.35,3.5 0 1,0 2.35,0A2.35,3.5 0 1,0 -2.35,0Z"/>
<text class="x" x="614.30" y="535" text-anchor="middle">X</text>
<text class="x" x="614.30" y="549" text-anchor="middle">X</text>
<text class="x" x="614.30" y="563" text-anchor="middle">X</text>
<path class="op" transform="translate(627.79,544.5) skewX(-7)" d="M-4.1,0A4.1,4.5 0 1,0 4.1,0A4.1,4.5 0 1,0 -4.1,0ZM-2.35,0A2.35,3.5 0 1,0 2.35,0A2.35,3.5 0 1,0 -2.35,0Z"/>
<path class="op" transform="translate(627.79,558.5) skewX(-7)" d="M-4.1,0A4.1,4.5 0 1,0 4.1,0A4.1,4.5 0 1,0 -4.1,0ZM-2.35,0A2.35,3.5 0 1,0 2.35,0A2.35,3.5 0 1,0 -2.35,0Z"/>
<path class="op" transform="translate(627.79,572.5) skewX(-7)" d="M-4.1,0A4.1,4.5 0 1,0 4.1,0A4.1,4.5 0 1,0 -4.1,0ZM-2.35,0A2.35,3.5 0 1,0 2.35,0A2.35,3.5 0 1,0 -2.35,0Z"/>
<path class="op" transform="translate(627.79,586.5) skewX(-7)" d="M-4.1,0A4.1,4.5 0 1,0 4.1,0A4.1,4.5 0 1,0 -4.1,0ZM-2.35,0A2.35,3.5 0 1,0 2.35,0A2.35,3.5 0 1,0 -2.35,0Z"/>
<path class="op" transform="translate(627.79,600.5) skewX(-7)" d="M-4.1,0A4.1,4.5 0 1,0 4.1,0A4.1,4.5 0 1,0 -4.1,0ZM-2.35,0A2.35,3.5 0 1,0 2.35,0A2.35,3.5 0 1,0 -2.35,0Z"/>
<path class="op" transform="translate(627.79,614.5) skewX(-7)" d="M-4.1,0A4.1,4.5 0 1,0 4.1,0A4.1,4.5 0 1,0 -4.1,0ZM-2.35,0A2.35,3.5 0 1,0 2.35,0A2.35,3.5 0 1,0 -2.35,0Z"/>
<path class="op" transform="translate(627.79,628.5) skewX(-7)" d="M-4.1,0A4.1,4.5 0 1,0 4.1,0A4.1,4.5 0 1,0 -4.1,0ZM-2.35,0A2.35,3.5 0 1,0 2.35,0A2.35,3.5 0 1,0 -2.35,0Z"/>
<rect x="623" y="637.1" width="8" height="12.4" fill="#ffffc0" shape-rendering="auto"/>
<text class="m" x="627.00" y="647" text-anchor="middle">A</text>
<text class="x" x="639.80" y="605" text-anchor="middle">X</text>
<text class="x" x="639.80" y="619" text-anchor="middle">X</text>
<text class="x" x="639.80" y="633" text-anchor="middle">X</text>
<path class="op" transform="translate(653.06,614.5) skewX(-7)" d="M-4.1,0A4.1,4.5 0 1,0 4.1,0A4.1,4.5 0 1,0 -4.1,0ZM-2.35,0A2.35,3.5 0 1,0 2.35,0A2.35,3.5 0 1,0 -2.35,0Z"/>
<path class="op" transform="translate(653.06,628.5) skewX(-7)" d="M-4.1,0A4.1,4.5 0 1,0 4.1,0A4.1,4.5 0 1,0 -4.1,0ZM-2.35,0A2.35,3.5 0 1,0 2.35,0A2.35,3.5 0 1,0 -2.35,0Z"/>
<path class="op" transform="translate(653.06,642.5) skewX(-7)" d="M-4.1,0A4.1,4.5 0 1,0 4.1,0A4.1,4.5 0 1,0 -4.1,0ZM-2.35,0A2.35,3.5 0 1,0 2.35,0A2.35,3.5 0 1,0 -2.35,0Z"/>
<path class="op" transform="translate(653.06,656.5) skewX(-7)" d="M-4.1,0A4.1,4.5 0 1,0 4.1,0A4.1,4.5 0 1,0 -4.1,0ZM-2.35,0A2.35,3.5 0 1,0 2.35,0A2.35,3.5 0 1,0 -2.35,0Z"/>
<text class="x" x="664.80" y="549" text-anchor="middle">X</text>
<text class="x" x="664.80" y="563" text-anchor="middle">X</text>
<text class="x" x="664.80" y="577" text-anchor="middle">X</text>
<text class="x" x="664.80" y="591" text-anchor="middle">X</text>
<text class="x" x="664.80" y="605" text-anchor="middle">X</text>
<text class="x" x="664.80" y="619" text-anchor="middle">X</text>
<text class="x" x="664.80" y="633" text-anchor="middle">X</text>
<text class="x" x="664.80" y="647" text-anchor="middle">X</text>
<rect x="675" y="553.1" width="7" height="12.4" fill="#ffffc0" shape-rendering="auto"/>
<text class="m" x="678.50" y="563" text-anchor="middle">B</text>
<path class="op" transform="translate(678.34,572.5) skewX(-7)" d="M-4.1,0A4.1,4.5 0 1,0 4.1,0A4.1,4.5 0 1,0 -4.1,0ZM-2.35,0A2.35,3.5 0 1,0 2.35,0A2.35,3.5 0 1,0 -2.35,0Z"/>
<path class="op" transform="translate(678.34,586.5) skewX(-7)" d="M-4.1,0A4.1,4.5 0 1,0 4.1,0A4.1,4.5 0 1,0 -4.1,0ZM-2.35,0A2.35,3.5 0 1,0 2.35,0A2.35,3.5 0 1,0 -2.35,0Z"/>
<path class="op" transform="translate(678.34,600.5) skewX(-7)" d="M-4.1,0A4.1,4.5 0 1,0 4.1,0A4.1,4.5 0 1,0 -4.1,0ZM-2.35,0A2.35,3.5 0 1,0 2.35,0A2.35,3.5 0 1,0 -2.35,0Z"/>
<path class="op" transform="translate(678.34,614.5) skewX(-7)" d="M-4.1,0A4.1,4.5 0 1,0 4.1,0A4.1,4.5 0 1,0 -4.1,0ZM-2.35,0A2.35,3.5 0 1,0 2.35,0A2.35,3.5 0 1,0 -2.35,0Z"/>
<path class="op" transform="translate(678.34,628.5) skewX(-7)" d="M-4.1,0A4.1,4.5 0 1,0 4.1,0A4.1,4.5 0 1,0 -4.1,0ZM-2.35,0A2.35,3.5 0 1,0 2.35,0A2.35,3.5 0 1,0 -2.35,0Z"/>
<path class="op" transform="translate(678.34,642.5) skewX(-7)" d="M-4.1,0A4.1,4.5 0 1,0 4.1,0A4.1,4.5 0 1,0 -4.1,0ZM-2.35,0A2.35,3.5 0 1,0 2.35,0A2.35,3.5 0 1,0 -2.35,0Z"/>
<path class="op" transform="translate(678.34,656.5) skewX(-7)" d="M-4.1,0A4.1,4.5 0 1,0 4.1,0A4.1,4.5 0 1,0 -4.1,0ZM-2.35,0A2.35,3.5 0 1,0 2.35,0A2.35,3.5 0 1,0 -2.35,0Z"/>
<text class="x" x="689.80" y="521" text-anchor="middle">X</text>
<text class="x" x="689.80" y="535" text-anchor="middle">X</text>
<text class="x" x="689.80" y="549" text-anchor="middle">X</text>
<text class="x" x="689.80" y="563" text-anchor="middle">X</text>
<text class="x" x="689.80" y="577" text-anchor="middle">X</text>
<text class="x" x="689.80" y="591" text-anchor="middle">X</text>
<text class="x" x="689.80" y="605" text-anchor="middle">X</text>
<text class="x" x="689.80" y="619" text-anchor="middle">X</text>
<text class="x" x="689.80" y="633" text-anchor="middle">X</text>
<text class="x" x="689.80" y="647" text-anchor="middle">X</text>
<path class="op" transform="translate(703.61,530.5) skewX(-7)" d="M-4.1,0A4.1,4.5 0 1,0 4.1,0A4.1,4.5 0 1,0 -4.1,0ZM-2.35,0A2.35,3.5 0 1,0 2.35,0A2.35,3.5 0 1,0 -2.35,0Z"/>
<path class="op" transform="translate(703.61,544.5) skewX(-7)" d="M-4.1,0A4.1,4.5 0 1,0 4.1,0A4.1,4.5 0 1,0 -4.1,0ZM-2.35,0A2.35,3.5 0 1,0 2.35,0A2.35,3.5 0 1,0 -2.35,0Z"/>
<path class="op" transform="translate(703.61,558.5) skewX(-7)" d="M-4.1,0A4.1,4.5 0 1,0 4.1,0A4.1,4.5 0 1,0 -4.1,0ZM-2.35,0A2.35,3.5 0 1,0 2.35,0A2.35,3.5 0 1,0 -2.35,0Z"/>
<path class="op" transform="translate(703.61,572.5) skewX(-7)" d="M-4.1,0A4.1,4.5 0 1,0 4.1,0A4.1,4.5 0 1,0 -4.1,0ZM-2.35,0A2.35,3.5 0 1,0 2.35,0A2.35,3.5 0 1,0 -2.35,0Z"/>
<text class="x" x="715.30" y="507" text-anchor="middle">X</text>
<text class="x" x="715.30" y="521" text-anchor="middle">X</text>
<text class="x" x="715.30" y="535" text-anchor="middle">X</text>
<text class="x" x="715.30" y="549" text-anchor="middle">X</text>
<text class="x" x="715.30" y="563" text-anchor="middle">X</text>
<rect x="725" y="511.1" width="7" height="12.4" fill="#ffffc0" shape-rendering="auto"/>
<text class="m" x="728.50" y="521" text-anchor="middle">C</text>
<path class="op" transform="translate(728.88,530.5) skewX(-7)" d="M-4.1,0A4.1,4.5 0 1,0 4.1,0A4.1,4.5 0 1,0 -4.1,0ZM-2.35,0A2.35,3.5 0 1,0 2.35,0A2.35,3.5 0 1,0 -2.35,0Z"/>
<path class="op" transform="translate(728.88,544.5) skewX(-7)" d="M-4.1,0A4.1,4.5 0 1,0 4.1,0A4.1,4.5 0 1,0 -4.1,0ZM-2.35,0A2.35,3.5 0 1,0 2.35,0A2.35,3.5 0 1,0 -2.35,0Z"/>
<path class="op" transform="translate(728.88,558.5) skewX(-7)" d="M-4.1,0A4.1,4.5 0 1,0 4.1,0A4.1,4.5 0 1,0 -4.1,0ZM-2.35,0A2.35,3.5 0 1,0 2.35,0A2.35,3.5 0 1,0 -2.35,0Z"/>
<path class="op" transform="translate(728.88,572.5) skewX(-7)" d="M-4.1,0A4.1,4.5 0 1,0 4.1,0A4.1,4.5 0 1,0 -4.1,0ZM-2.35,0A2.35,3.5 0 1,0 2.35,0A2.35,3.5 0 1,0 -2.35,0Z"/>
<path class="op" transform="translate(728.88,586.5) skewX(-7)" d="M-4.1,0A4.1,4.5 0 1,0 4.1,0A4.1,4.5 0 1,0 -4.1,0ZM-2.35,0A2.35,3.5 0 1,0 2.35,0A2.35,3.5 0 1,0 -2.35,0Z"/>
<polygon points="70.24,27.40 72.54,27.40 123.09,83.40 120.79,83.40" fill="#c4009c" shape-rendering="auto"/>
<polygon points="158.70,97.40 161.00,97.40 198.90,139.40 196.60,139.40" fill="#c4009c" shape-rendering="auto"/>
<polygon points="209.24,97.40 211.54,97.40 476.90,391.40 474.60,391.40" fill="#c4009c" shape-rendering="auto"/>
<polygon points="512.51,405.40 514.81,405.40 653.81,559.40 651.51,559.40" fill="#c4009c" shape-rendering="auto"/>
<polygon points="436.70,545.40 439.00,545.40 489.54,489.40 487.24,489.40" fill="#0000f0" shape-rendering="auto"/>
</svg></body></html>
